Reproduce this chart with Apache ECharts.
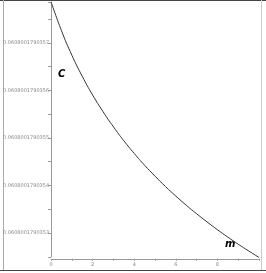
<!DOCTYPE html>
<html><head><meta charset="utf-8">
<script src="https://cdn.jsdelivr.net/npm/echarts@6/dist/echarts.min.js"></script>
<style>html,body{margin:0;padding:0;background:#fff}#c{width:266px;height:273px}</style>
</head><body><div id="c"></div>
<script>
const xValues = [0,0.5,1,1.5,2,2.5,3,3.5,4,4.5,5,5.5,6,6.5,7,7.5,8,8.5,9,9.5,10];
const cValues = [
 0.0608001790357863,0.0608001790357257,0.0608001790356741,0.0608001790356297,
 0.0608001790355903,0.0608001790355552,0.0608001790355234,0.0608001790354941,
 0.0608001790354674,0.0608001790354425,0.0608001790354196,0.0608001790353979,
 0.0608001790353777,0.0608001790353585,0.0608001790353404,0.0608001790353234,
 0.0608001790353069,0.0608001790352914,0.0608001790352764,0.0608001790352623,
 0.0608001790352486];
const yTickLabels = ['0.0608001790353','0.0608001790354','0.0608001790355','0.0608001790356','0.0608001790357'];
const xTickLabels = ['0','2','4','6','8'];
const curveLabel = 'C';
const axisLabelText = 'm';

const chart = echarts.init(document.getElementById('c'));
chart.setOption({
  animation:false,
  grid:{left:51,right:7,top:2,bottom:16.25,containLabel:false},
  xAxis:{type:'value',min:0,max:10,interval:1,offset:2,
    axisLine:{lineStyle:{color:'#999',width:1}},
    axisTick:{show:true,length:2,inside:false,lineStyle:{color:'#999'}},
    splitLine:{show:false},
    axisLabel:{fontSize:5,color:'#888',margin:3,fontFamily:'DejaVu Sans',
      formatter:v=>{const s=String(Math.round(v));return xTickLabels.includes(s)?s:'';}}},
  yAxis:{type:'value',min:0.06080017903525,max:0.0608001790357863,interval:0.5e-13,
    axisLine:{show:true,lineStyle:{color:'#999',width:1}},
    axisTick:{show:true,length:3,lineStyle:{color:'#999'}},
    splitLine:{show:false},
    axisLabel:{fontSize:5,color:'#888',margin:2,fontFamily:'DejaVu Sans',
      formatter:v=>{const s=(Math.round(v*1e13)/1e13).toFixed(13);
        return (Math.abs(v*1e13-Math.round(v*1e13))<0.1 && yTickLabels.includes(s))?s:'';}}},
  series:[{type:'line',data:xValues.map((x,i)=>[x,cValues[i]]),smooth:true,showSymbol:false,clip:false,
    lineStyle:{color:'#333',width:1}}],
  graphic:[
    {type:'line',shape:{x1:0,y1:0.5,x2:266,y2:0.5},style:{stroke:'#444',lineWidth:1}},
    {type:'line',shape:{x1:0,y1:270.5,x2:266,y2:270.5},style:{stroke:'#444',lineWidth:1}},
    {type:'line',shape:{x1:3.5,y1:0,x2:3.5,y2:270},style:{stroke:'#aaa',lineWidth:1}},
    {type:'line',shape:{x1:261.5,y1:0,x2:261.5,y2:270},style:{stroke:'#ccc',lineWidth:1}},
    {type:'text',left:58,top:69,style:{text:curveLabel,fontSize:10,fontStyle:'italic',fontWeight:'bold',fill:'#000',fontFamily:'DejaVu Sans'}},
    {type:'text',left:225,top:239,style:{text:axisLabelText,fontSize:10,fontStyle:'italic',fontWeight:'bold',fill:'#000',fontFamily:'DejaVu Sans'}}
  ]
});
</script></body></html>
